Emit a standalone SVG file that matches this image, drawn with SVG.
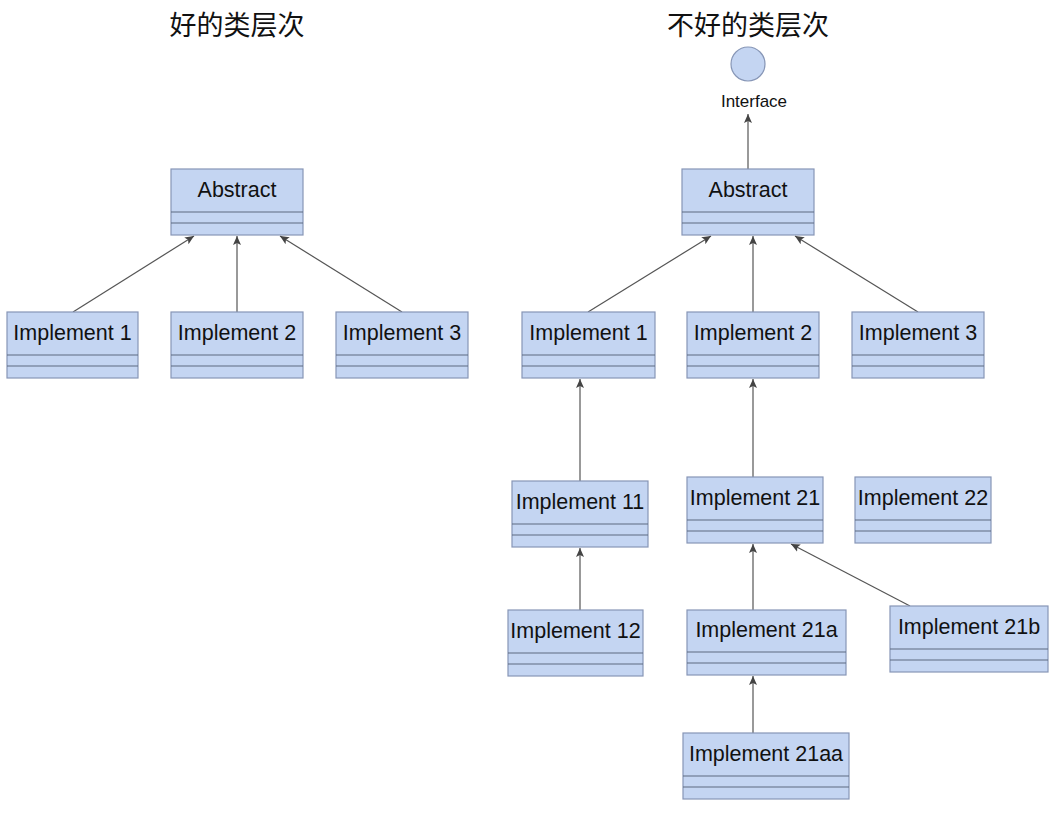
<svg xmlns="http://www.w3.org/2000/svg" width="1064" height="816" viewBox="0 0 1064 816">
<style>
.box{fill:#c4d5f2;stroke:#8796b6;stroke-width:1.2}
.sep{stroke:#5d6a80;stroke-width:1.2}
.lbl{font-family:"Liberation Sans",Arial,sans-serif;font-size:21.5px;fill:#111;text-anchor:middle}
.title{font-family:"Noto Sans CJK SC","Noto Sans",sans-serif;font-size:27px;fill:#111;text-anchor:middle}
.edge{stroke:#555;stroke-width:1.2;fill:none;marker-end:url(#arr)}
</style>
<defs>
<marker id="arr" markerUnits="userSpaceOnUse" markerWidth="10" markerHeight="10" viewBox="0 0 10 10" refX="9" refY="5" orient="auto">
<path d="M0,1 L9,5 L0,9 L2,5 Z" fill="#444"/>
</marker>
</defs>
<rect width="1064" height="816" fill="#fff"/>
<text class="title" x="237" y="35">好的类层次</text>
<text class="title" x="748" y="35">不好的类层次</text>

<g id="interface">
<circle cx="748" cy="64" r="17" fill="#c4d5f2" stroke="#8796b6" stroke-width="1.2"/>
<text x="754" y="107" font-family="'Liberation Sans',Arial,sans-serif" font-size="17" fill="#111" text-anchor="middle">Interface</text>
</g>

<g id="connectors">
<line class="edge" x1="73" y1="312" x2="194" y2="236"/>
<line class="edge" x1="237" y1="312" x2="237" y2="236"/>
<line class="edge" x1="402" y1="312" x2="280" y2="236"/>
<line class="edge" x1="748" y1="169" x2="748" y2="114"/>
<line class="edge" x1="588" y1="312" x2="711" y2="236"/>
<line class="edge" x1="753" y1="312" x2="753" y2="236"/>
<line class="edge" x1="918" y1="312" x2="795" y2="236"/>
<line class="edge" x1="580" y1="481" x2="580" y2="379"/>
<line class="edge" x1="753" y1="477" x2="753" y2="379"/>
<line class="edge" x1="580" y1="610" x2="580" y2="548"/>
<line class="edge" x1="753" y1="610" x2="753" y2="544"/>
<line class="edge" x1="910" y1="606" x2="791" y2="544"/>
<line class="edge" x1="753" y1="733" x2="753" y2="676"/>
</g>

<g id="l-abstract"><rect class="box" x="171" y="169" width="132" height="66"/><line class="sep" x1="171" y1="212" x2="303" y2="212"/><line class="sep" x1="171" y1="223" x2="303" y2="223"/><text class="lbl" x="237" y="197">Abstract</text></g>
<g id="l-impl1"><rect class="box" x="7" y="312" width="131" height="66"/><line class="sep" x1="7" y1="355" x2="138" y2="355"/><line class="sep" x1="7" y1="366" x2="138" y2="366"/><text class="lbl" x="72.5" y="340">Implement 1</text></g>
<g id="l-impl2"><rect class="box" x="171" y="312" width="132" height="66"/><line class="sep" x1="171" y1="355" x2="303" y2="355"/><line class="sep" x1="171" y1="366" x2="303" y2="366"/><text class="lbl" x="237" y="340">Implement 2</text></g>
<g id="l-impl3"><rect class="box" x="336" y="312" width="132" height="66"/><line class="sep" x1="336" y1="355" x2="468" y2="355"/><line class="sep" x1="336" y1="366" x2="468" y2="366"/><text class="lbl" x="402" y="340">Implement 3</text></g>

<g id="r-abstract"><rect class="box" x="682" y="169" width="132" height="66"/><line class="sep" x1="682" y1="212" x2="814" y2="212"/><line class="sep" x1="682" y1="223" x2="814" y2="223"/><text class="lbl" x="748" y="197">Abstract</text></g>
<g id="r-impl1"><rect class="box" x="522" y="312" width="133" height="66"/><line class="sep" x1="522" y1="355" x2="655" y2="355"/><line class="sep" x1="522" y1="366" x2="655" y2="366"/><text class="lbl" x="588.5" y="340">Implement 1</text></g>
<g id="r-impl2"><rect class="box" x="687" y="312" width="132" height="66"/><line class="sep" x1="687" y1="355" x2="819" y2="355"/><line class="sep" x1="687" y1="366" x2="819" y2="366"/><text class="lbl" x="753" y="340">Implement 2</text></g>
<g id="r-impl3"><rect class="box" x="852" y="312" width="132" height="66"/><line class="sep" x1="852" y1="355" x2="984" y2="355"/><line class="sep" x1="852" y1="366" x2="984" y2="366"/><text class="lbl" x="918" y="340">Implement 3</text></g>

<g id="impl11"><rect class="box" x="512" y="481" width="136" height="66"/><line class="sep" x1="512" y1="524" x2="648" y2="524"/><line class="sep" x1="512" y1="535" x2="648" y2="535"/><text class="lbl" x="580" y="509">Implement 11</text></g>
<g id="impl21"><rect class="box" x="687" y="477" width="136" height="66"/><line class="sep" x1="687" y1="520" x2="823" y2="520"/><line class="sep" x1="687" y1="531" x2="823" y2="531"/><text class="lbl" x="755" y="505">Implement 21</text></g>
<g id="impl22"><rect class="box" x="855" y="477" width="136" height="66"/><line class="sep" x1="855" y1="520" x2="991" y2="520"/><line class="sep" x1="855" y1="531" x2="991" y2="531"/><text class="lbl" x="923" y="505">Implement 22</text></g>
<g id="impl12"><rect class="box" x="508" y="610" width="135" height="66"/><line class="sep" x1="508" y1="653" x2="643" y2="653"/><line class="sep" x1="508" y1="664" x2="643" y2="664"/><text class="lbl" x="575.5" y="638">Implement 12</text></g>
<g id="impl21a"><rect class="box" x="687" y="610" width="159" height="65"/><line class="sep" x1="687" y1="652" x2="846" y2="652"/><line class="sep" x1="687" y1="663" x2="846" y2="663"/><text class="lbl" x="766.5" y="637">Implement 21a</text></g>
<g id="impl21b"><rect class="box" x="890" y="606" width="158" height="66"/><line class="sep" x1="890" y1="649" x2="1048" y2="649"/><line class="sep" x1="890" y1="660" x2="1048" y2="660"/><text class="lbl" x="969" y="634">Implement 21b</text></g>
<g id="impl21aa"><rect class="box" x="683" y="733" width="166" height="66"/><line class="sep" x1="683" y1="776" x2="849" y2="776"/><line class="sep" x1="683" y1="787" x2="849" y2="787"/><text class="lbl" x="766" y="761">Implement 21aa</text></g>
</svg>
